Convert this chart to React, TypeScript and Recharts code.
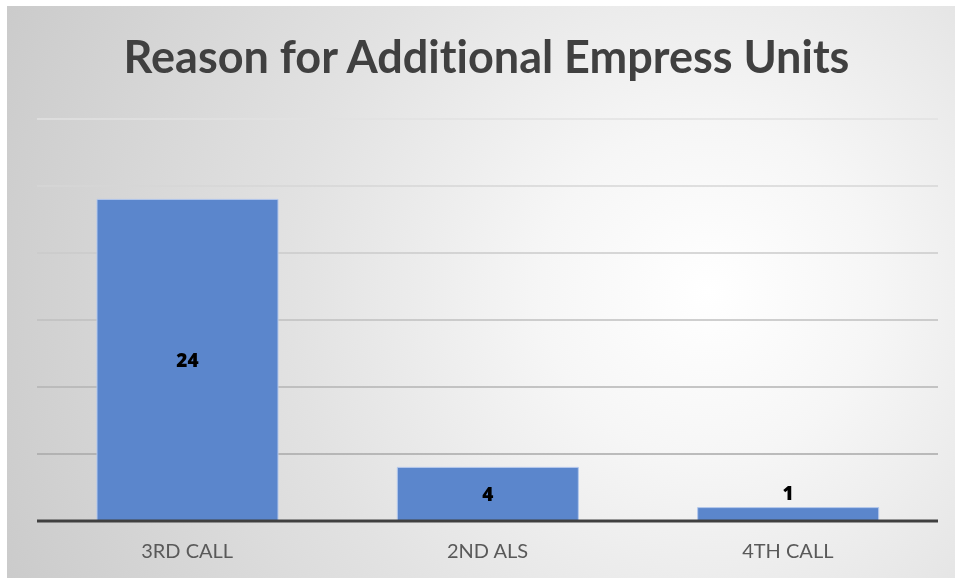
import React from 'react'
import { BarChart, Bar, XAxis, YAxis, CartesianGrid, LabelList } from 'recharts'

const categories = ['3RD CALL', '2ND ALS', '4TH CALL']
const counts = [24, 4, 1]
const yTicks = [0, 5, 10, 15, 20, 25, 30]

const data = categories.map((name, i) => ({ name, count: counts[i] }))

const FONT = 'Lato, "Open Sans", sans-serif'

function ValueLabel(props: any) {
  const { x, y, width, height, value } = props
  const inside = height > 30
  return (
    <text
      x={x + width / 2}
      y={inside ? y + height / 2 : y - 8}
      textAnchor="middle"
      dominantBaseline={inside ? 'central' : 'auto'}
      fontFamily='"Open Sans", sans-serif'
      fontWeight={800}
      fontSize={19}
      fill="#000"
    >
      {value}
    </text>
  )
}

export default function App() {
  return (
    <div
      style={{
        position: 'fixed',
        left: 7,
        top: 6,
        width: 948,
        height: 572,
        background: 'radial-gradient(circle at 74% 50%, #ffffff 0%, #f6f6f6 22%, #e2e2e2 55%, #cbcbcb 100%)',
        fontFamily: FONT,
      }}
    >
      <div
        style={{
          position: 'absolute',
          left: 0,
          right: 0,
          top: 22,
          textAlign: 'center',
          fontSize: 45,
          fontWeight: 700,
          color: '#404040',
          lineHeight: '56px',
          fontVariantLigatures: 'none',
          marginLeft: 11,
        }}
      >
        Reason for Additional Empress Units
      </div>
      <BarChart
        width={948}
        height={572}
        data={data}
        margin={{ top: 113, right: 17, left: 30, bottom: 0 }}
        barSize={181}
      >
        <defs>
          <linearGradient id="gridFade" gradientUnits="userSpaceOnUse" x1="0" y1="110" x2="0" y2="460">
            <stop offset="0%" stopColor="#e2e2e2" />
            <stop offset="100%" stopColor="#a6a6a6" />
          </linearGradient>
        </defs>
        <CartesianGrid vertical={false} stroke="url(#gridFade)" strokeWidth={1.5} />
        <YAxis hide domain={[0, 30]} ticks={yTicks} />
        <XAxis
          dataKey="name"
          height={57}
          tickLine={false}
          axisLine={{ stroke: '#404040', strokeWidth: 3 }}
          tick={{ fill: '#595959', fontSize: 20, fontFamily: FONT }}
          tickMargin={17}
        />
        <Bar dataKey="count" fill="#5b86cc" stroke="#b4c8ec" strokeWidth={1} isAnimationActive={false}>
          <LabelList dataKey="count" content={ValueLabel} />
        </Bar>
      </BarChart>
    </div>
  )
}
